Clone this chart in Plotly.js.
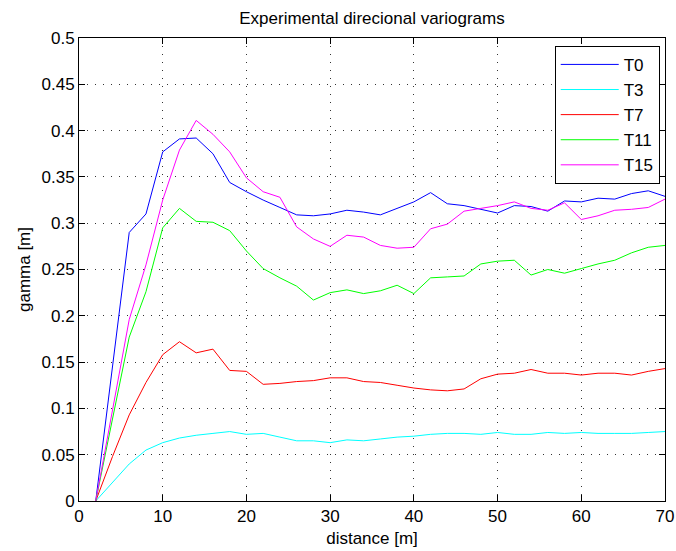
<!DOCTYPE html>
<html><head><meta charset="utf-8">
<script src="https://cdn.plot.ly/plotly-3.0.1.min.js"></script>
<style>body{margin:0;background:#fff}#plot{width:676px;height:551px}</style>
</head><body><div id="plot"></div>
<script>
const distance = [2,4,6,8,10,12,14,16,18,20,22,24,26,28,30,32,34,36,38,40,42,44,46,48,50,52,54,56,58,60,62,64,66,68,70];
const T0  = [0,0.144,0.290,0.310,0.377,0.391,0.392,0.375,0.344,0.334,0.325,0.317,0.309,0.308,0.310,0.314,0.312,0.309,0.316,0.323,0.333,0.321,0.319,0.315,0.311,0.319,0.318,0.313,0.324,0.323,0.327,0.326,0.332,0.335,0.329];
const T3  = [0,0.020,0.040,0.055,0.063,0.068,0.071,0.073,0.075,0.072,0.073,0.069,0.065,0.065,0.063,0.066,0.065,0.067,0.069,0.070,0.072,0.073,0.073,0.072,0.074,0.072,0.072,0.074,0.073,0.074,0.073,0.073,0.073,0.074,0.075];
const T7  = [0,0.048,0.093,0.128,0.158,0.172,0.160,0.164,0.141,0.140,0.126,0.127,0.129,0.130,0.133,0.133,0.129,0.128,0.125,0.122,0.120,0.119,0.121,0.132,0.137,0.138,0.142,0.138,0.138,0.136,0.138,0.138,0.136,0.140,0.143];
const T11 = [0,0.088,0.177,0.226,0.295,0.316,0.302,0.301,0.292,0.270,0.251,0.241,0.232,0.217,0.225,0.228,0.224,0.227,0.233,0.224,0.241,0.242,0.243,0.256,0.259,0.260,0.244,0.250,0.246,0.251,0.256,0.260,0.268,0.274,0.276];
const T15 = [0,0.098,0.196,0.255,0.325,0.379,0.411,0.396,0.377,0.349,0.334,0.328,0.296,0.283,0.275,0.287,0.285,0.276,0.273,0.274,0.294,0.299,0.313,0.316,0.319,0.323,0.316,0.314,0.322,0.304,0.308,0.314,0.315,0.317,0.326];
const names = ['T0','T3','T7','T11','T15'];
const series = [T0,T3,T7,T11,T15];
const colors = ['#0000ff','#00ffff','#ff0000','#00ff00','#ff00ff'];
const xTicks = [0,10,20,30,40,50,60,70];
const yTicks = [0,0.05,0.1,0.15,0.2,0.25,0.3,0.35,0.4,0.45,0.5];

const traces = series.map((s,i)=>({x:distance,y:s,name:names[i],type:'scatter',mode:'lines',line:{color:colors[i],width:1}}));
const fam = '"Liberation Sans", Arial, sans-serif';
const FS = 17;
const axisCommon = {showline:true,mirror:'allticks',linecolor:'#000',linewidth:1,ticks:'inside',ticklen:6,tickcolor:'#000',
  showgrid:true,gridcolor:'#333',griddash:'1px,7px',gridwidth:1,zeroline:false,tickfont:{size:FS,family:fam,color:'#000'}};
const layout = {
  width:676,height:551,paper_bgcolor:'#fff',plot_bgcolor:'#fff',font:{family:fam,color:'#000'},
  margin:{l:79,r:11,t:38,b:50},
  title:{text:'Experimental direcional variograms',font:{size:FS,family:fam,color:'#000'},x:0.5,xref:'paper',xanchor:'center',yref:'container',y:0.9677,yanchor:'middle'},
  xaxis:Object.assign({},axisCommon,{range:[0,70],tickvals:xTicks,ticktext:xTicks.map(String),
    title:{text:'distance [m]',font:{size:FS,family:fam,color:'#000'},standoff:6}}),
  yaxis:Object.assign({},axisCommon,{range:[0,0.5],tickvals:yTicks,ticktext:yTicks.map(String),
    title:{text:'gamma [m]',font:{size:FS,family:fam,color:'#000'},standoff:6}}),
  showlegend:true,
  legend:{x:0.991,xanchor:'right',y:0.983,yanchor:'top',bgcolor:'#fff',bordercolor:'#000',borderwidth:1,
    font:{size:FS,family:fam,color:'#000'},itemwidth:58,tracegroupgap:0}
};
Plotly.newPlot('plot',traces,layout,{staticPlot:true});
</script></body></html>
